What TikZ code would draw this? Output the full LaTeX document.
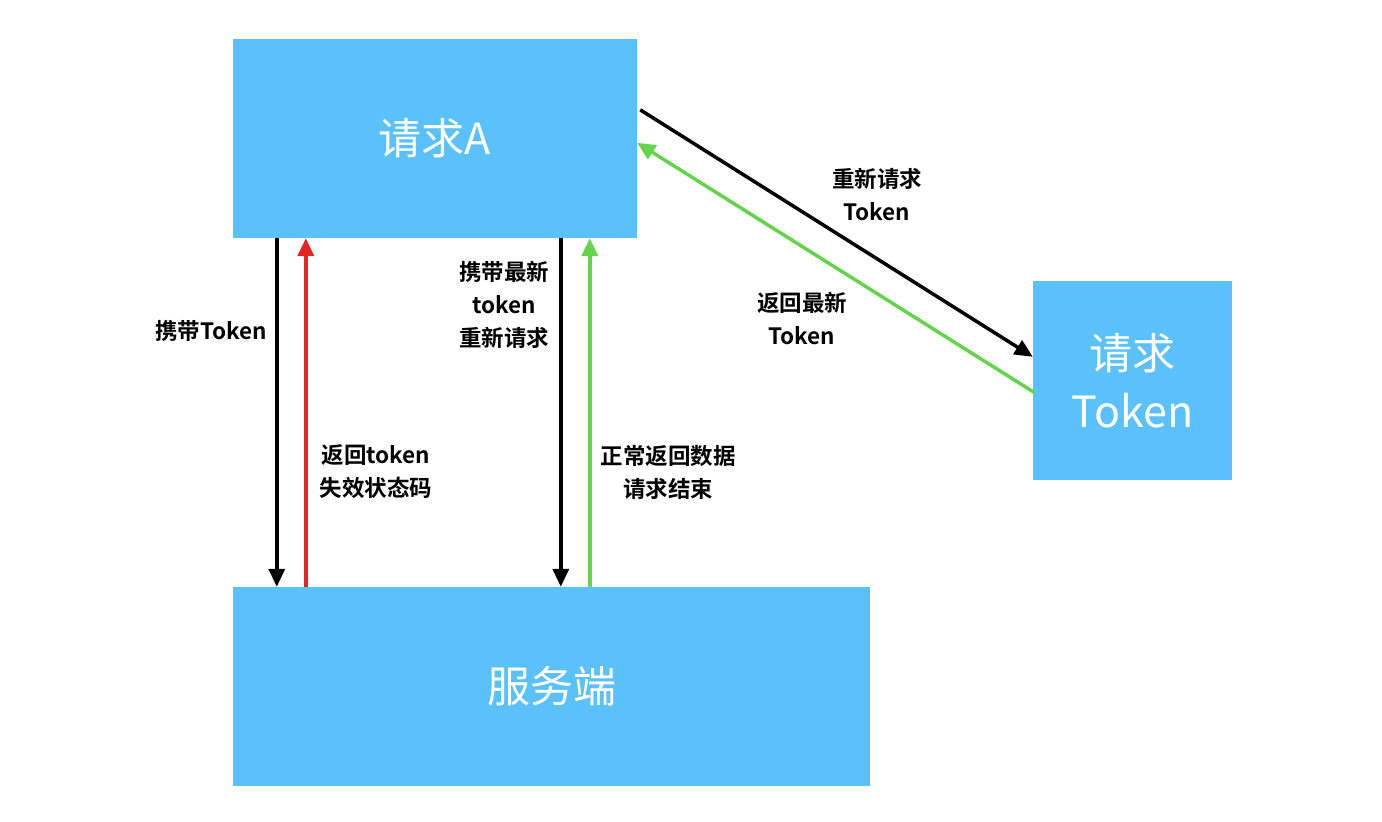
\documentclass[tikz,border=0pt]{standalone}
\usepackage{fontspec}
\setmainfont{Noto Sans CJK SC}[BoldFont={Noto Sans CJK SC Bold}]
\usetikzlibrary{arrows.meta,positioning}
\definecolor{boxblue}{HTML}{5AC1FC}
\definecolor{arrred}{HTML}{E42521}
\definecolor{arrgreen}{HTML}{63D44B}

\begin{document}
\begin{tikzpicture}
	[
		x=1pt, y=1pt,
		block/.style={fill=boxblue, text=white, inner sep=0pt, font=\fontsize{43}{58}\selectfont, align=center},
		flow/.style={line width=3.5pt, -{Triangle[length=18pt,width=16pt]}},
		lbl/.style={font=\bfseries\fontsize{22.5}{33}\selectfont, align=center}
	]
	\useasboundingbox (0,0) rectangle (1382,822);

	\node(reqA) [block, minimum width=404pt, minimum height=199pt] at (435,683.5) {请求A};
	\node(srv) [block, minimum width=637pt, minimum height=199pt] at (551.5,135.5) {服务端};
	\node(reqT) [block, minimum width=199pt, minimum height=199pt] at (1132.5,441.5) {请求\\Token};

	% vertical arrows
	\draw[flow] ([xshift=44pt]reqA.south west) -- ([xshift=44pt]srv.north west);
	\draw[flow, arrred] ([xshift=73pt]srv.north west) -- ([xshift=73pt]reqA.south west);
	\draw[flow] ([xshift=328pt]reqA.south west) -- ([xshift=328pt]srv.north west);
	\draw[flow, arrgreen] ([xshift=357pt]srv.north west) -- ([xshift=357pt]reqA.south west);

	% token refresh
	\draw[flow] ([shift={(3pt,-71pt)}]reqA.north east) -- ([yshift=-76pt]reqT.north west);
	\draw[flow, arrgreen] ([shift={(2pt,-112pt)}]reqT.north west) -- ([yshift=-104pt]reqA.north east);

	\node(l1) [lbl] at (211,491) {携带Token};
	\node(l2) [lbl] at (376,350) {返回token\\失效状态码};
	\node(l3) [lbl] at (504,517) {携带最新\\token\\重新请求};
	\node(l4) [lbl] at (668,350) {正常返回数据\\请求结束};
	\node(l5) [lbl] at (877,627) {重新请求\\Token};
	\node(l6) [lbl] at (802,503) {返回最新\\Token};
\end{tikzpicture}
\end{document}
